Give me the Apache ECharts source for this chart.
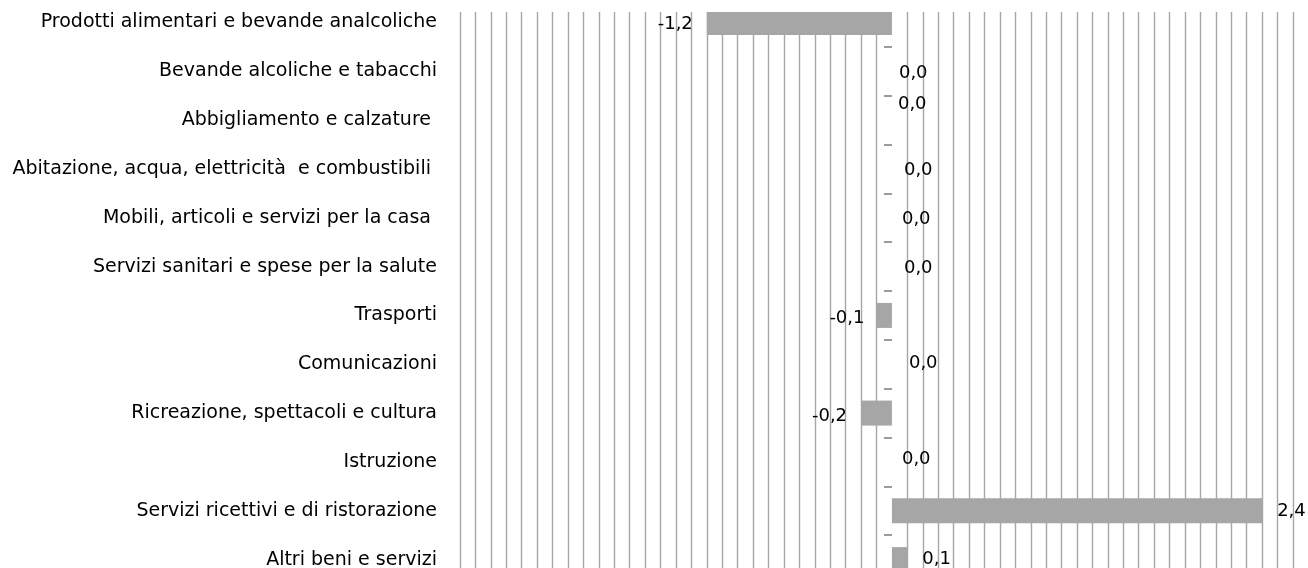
<!DOCTYPE html>
<html>
<head>
<meta charset="utf-8">
<script src="https://cdn.jsdelivr.net/npm/echarts@6/dist/echarts.min.js"></script>
<style>
html,body{margin:0;padding:0;background:#fff;}
#chart{width:1308px;height:568px;}
</style>
</head>
<body>
<div id="chart"></div>
<script>
// ---- data ----
const categories = [
  'Prodotti alimentari e bevande analcoliche',
  'Bevande alcoliche e tabacchi',
  'Abbigliamento e calzature ',
  'Abitazione, acqua, elettricità  e combustibili ',
  'Mobili, articoli e servizi per la casa ',
  'Servizi sanitari e spese per la salute',
  'Trasporti',
  'Comunicazioni',
  'Ricreazione, spettacoli e cultura',
  'Istruzione',
  'Servizi ricettivi e di ristorazione',
  'Altri beni e servizi'
];
const values = [-1.2, 0.0, 0.0, 0.0, 0.0, 0.0, -0.1, 0.0, -0.2, 0.0, 2.4, 0.1];

// ---- layout (label nudges, px) ----
const labelNudge = [
  [0, 2], [-4, 2], [-5, -16], [1, 1], [-1, 2], [1, 2],
  [2, 3], [6, -1], [0, 3], [-1, -3], [0, 1], [0, 0]
];

const axisMin = -2.8, axisMax = 2.6, step = 0.1;
const tickCount = Math.round((axisMax - axisMin) / step) + 1;
const zeroIdx = Math.round((0 - axisMin) / step);
const gridColors = [];
for (let i = 0; i < tickCount; i++) gridColors.push(i === zeroIdx ? 'rgba(0,0,0,0)' : '#A6A6A6');

const fmt = v => v.toFixed(1).replace('.', ',');
const FONT = 'DejaVu Sans';

const chart = echarts.init(document.getElementById('chart'));
chart.setOption({
  animation: false,
  backgroundColor: '#ffffff',
  grid: { left: 460, right: 15, top: -2, height: 586, containLabel: false, outerBoundsMode: 'none' },
  xAxis: {
    type: 'value', min: axisMin, max: axisMax, interval: step,
    axisLabel: { show: false }, axisLine: { show: false }, axisTick: { show: false },
    splitLine: { show: true, lineStyle: { color: gridColors, width: 1.4 } }
  },
  yAxis: [
    {
      type: 'category', data: categories, inverse: true, position: 'left',
      axisLine: { show: false, onZero: false }, axisTick: { show: false },
      axisLabel: { color: '#000', fontFamily: FONT, fontSize: 19, margin: 23, padding: [3, 0, 0, 0] },
      splitLine: { show: false }
    },
    {
      type: 'category', data: categories, inverse: true, position: 'right',
      axisLine: { show: true, onZero: true, lineStyle: { color: 'rgba(0,0,0,0)' } },
      axisTick: { show: true, inside: true, length: 8, lineStyle: { color: '#7A7A7A', width: 1.5 } },
      axisLabel: { show: false },
      splitLine: { show: false }
    }
  ],
  series: [{
    type: 'bar',
    yAxisIndex: 0,
    barWidth: 25,
    itemStyle: { color: '#A6A6A6' },
    data: values.map((v, i) => ({
      value: v,
      label: {
        show: true,
        position: v < 0 ? 'left' : 'right',
        distance: v < 0 ? 14 : (v === 0 ? 11 : 15),
        offset: labelNudge[i],
        formatter: p => fmt(p.value),
        color: '#000', fontFamily: FONT, fontSize: 18
      }
    }))
  }],
  graphic: [{
    type: 'rect', z: 100, silent: true,
    shape: { x: 440, y: 0, width: 868, height: 12 },
    style: { fill: '#ffffff' }
  }]
});
</script>
</body>
</html>
